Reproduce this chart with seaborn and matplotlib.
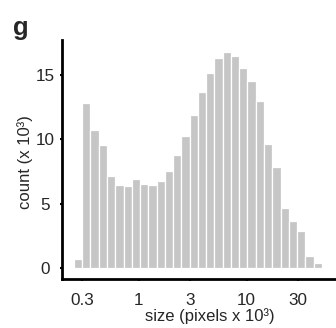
import numpy as np
import pandas as pd
import matplotlib
matplotlib.use("Agg")
import matplotlib.pyplot as plt
import seaborn as sns

# Histogram counts (x 10^3) per log-spaced size bin (pixels x 10^3)
counts = [0.65, 12.86, 10.7, 9.56, 7.17, 6.47, 6.39, 6.91, 6.52, 6.42,
          6.73, 7.51, 8.75, 10.29, 11.9, 13.69, 15.14, 16.34, 16.83, 16.47,
          15.53, 14.55, 13.01, 9.64, 7.82, 4.62, 3.61, 2.83, 0.88, 0.39]
size_min, size_max = 0.25, 50.0
xticks = [0.3, 1, 3, 10, 30]
xticklabels = ["0.3", "1", "3", "10", "30"]
yticks = [0, 5, 10, 15]

n_bins = len(counts)
log_edges = np.linspace(np.log10(size_min), np.log10(size_max), n_bins + 1)
centers = 10 ** ((log_edges[:-1] + log_edges[1:]) / 2)
df = pd.DataFrame({"size": centers, "count": counts})

sns.set_style("ticks")
plt.rcParams["font.family"] = ["Liberation Sans", "DejaVu Sans"]

W, H = 336, 328
L, T, B = 62.3, 40.0, 279.3
fig = plt.figure(figsize=(W / 100, H / 100), dpi=100)
ax = fig.add_axes([L / W, 1 - B / H, (W - L) / W, (B - T) / H])

sns.histplot(data=df, x="size", weights="count", bins=n_bins,
             binrange=(np.log10(size_min), np.log10(size_max)),
             log_scale=True, color="#c6c6c6", alpha=1.0,
             edgecolor="white", linewidth=0.9, ax=ax)

ax.set_xlim(10 ** -0.71, 10 ** 1.83)
ax.set_ylim(-0.9, 17.73)
ax.set_xticks(xticks)
ax.set_xticklabels(xticklabels)
ax.xaxis.set_minor_locator(matplotlib.ticker.NullLocator())
ax.set_yticks(yticks)
ax.tick_params(axis="both", labelsize=12.3, width=1.5, length=1.6, color="black")
ax.tick_params(axis="x", pad=8)
ax.tick_params(axis="y", pad=11.0)
for lab in ax.get_yticklabels():
    lab.set_horizontalalignment("center")
for s in ["left", "bottom"]:
    ax.spines[s].set_linewidth(2)
    ax.spines[s].set_color("black")
sns.despine(ax=ax)

ax.set_xlabel("size (pixels x 10³)", fontsize=12)
ax.set_ylabel("count (x 10³)", fontsize=12)
# label anchors expressed in axes fractions from pixel targets
ax.xaxis.set_label_coords((209.5 - L) / (W - L), (B - 308) / (B - T))
ax.yaxis.set_label_coords((33.3 - L) / (W - L), (B - 162.5) / (B - T))
fig.text(13 / W, 1 - 35 / H, "g", fontsize=18.5, fontweight="bold")

fig.savefig("out.png", dpi=100)
